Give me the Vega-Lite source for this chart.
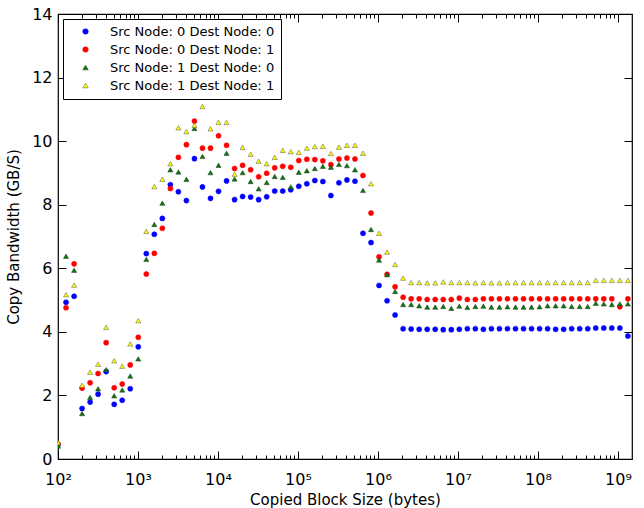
{
  "$schema": "https://vega.github.io/schema/vega-lite/v6.json",
  "width": 574,
  "height": 445,
  "autosize": {"type": "none"},
  "padding": {"left": 58, "top": 14, "right": 12, "bottom": 49},
  "background": "white",
  "config": {
    "font": "DejaVu Sans",
    "view": {"stroke": "black", "strokeWidth": 1.2},
    "axis": {"labelFont": "DejaVu Sans", "titleFont": "DejaVu Sans", "labelFontSize": 15, "titleFontSize": 15, "titleFontWeight": "normal", "labelColor": "black", "titleColor": "black", "tickColor": "black", "domain": false, "grid": false}
  },
  "data": {"values": [
    {"series":"Src Node: 0 Dest Node: 0","bytes":100,"gbps":0.45},
    {"series":"Src Node: 0 Dest Node: 0","bytes":126,"gbps":4.93},
    {"series":"Src Node: 0 Dest Node: 0","bytes":159,"gbps":5.12},
    {"series":"Src Node: 0 Dest Node: 0","bytes":200,"gbps":1.59},
    {"series":"Src Node: 0 Dest Node: 0","bytes":252,"gbps":1.79},
    {"series":"Src Node: 0 Dest Node: 0","bytes":317,"gbps":2.04},
    {"series":"Src Node: 0 Dest Node: 0","bytes":400,"gbps":2.75},
    {"series":"Src Node: 0 Dest Node: 0","bytes":504,"gbps":1.72},
    {"series":"Src Node: 0 Dest Node: 0","bytes":635,"gbps":1.85},
    {"series":"Src Node: 0 Dest Node: 0","bytes":800,"gbps":2.21},
    {"series":"Src Node: 0 Dest Node: 0","bytes":1008,"gbps":3.53},
    {"series":"Src Node: 0 Dest Node: 0","bytes":1270,"gbps":6.46},
    {"series":"Src Node: 0 Dest Node: 0","bytes":1600,"gbps":7.07},
    {"series":"Src Node: 0 Dest Node: 0","bytes":2016,"gbps":7.57},
    {"series":"Src Node: 0 Dest Node: 0","bytes":2540,"gbps":8.63},
    {"series":"Src Node: 0 Dest Node: 0","bytes":3200,"gbps":8.41},
    {"series":"Src Node: 0 Dest Node: 0","bytes":4032,"gbps":8.13},
    {"series":"Src Node: 0 Dest Node: 0","bytes":5080,"gbps":9.45},
    {"series":"Src Node: 0 Dest Node: 0","bytes":6400,"gbps":8.56},
    {"series":"Src Node: 0 Dest Node: 0","bytes":8063,"gbps":8.20},
    {"series":"Src Node: 0 Dest Node: 0","bytes":10159,"gbps":8.42},
    {"series":"Src Node: 0 Dest Node: 0","bytes":12800,"gbps":8.75},
    {"series":"Src Node: 0 Dest Node: 0","bytes":16127,"gbps":8.16},
    {"series":"Src Node: 0 Dest Node: 0","bytes":20319,"gbps":8.26},
    {"series":"Src Node: 0 Dest Node: 0","bytes":25600,"gbps":8.24},
    {"series":"Src Node: 0 Dest Node: 0","bytes":32254,"gbps":8.16},
    {"series":"Src Node: 0 Dest Node: 0","bytes":40637,"gbps":8.25},
    {"series":"Src Node: 0 Dest Node: 0","bytes":51200,"gbps":8.43},
    {"series":"Src Node: 0 Dest Node: 0","bytes":64508,"gbps":8.43},
    {"series":"Src Node: 0 Dest Node: 0","bytes":81275,"gbps":8.47},
    {"series":"Src Node: 0 Dest Node: 0","bytes":102400,"gbps":8.58},
    {"series":"Src Node: 0 Dest Node: 0","bytes":129016,"gbps":8.66},
    {"series":"Src Node: 0 Dest Node: 0","bytes":162550,"gbps":8.76},
    {"series":"Src Node: 0 Dest Node: 0","bytes":204800,"gbps":8.73},
    {"series":"Src Node: 0 Dest Node: 0","bytes":258032,"gbps":8.29},
    {"series":"Src Node: 0 Dest Node: 0","bytes":325100,"gbps":8.69},
    {"series":"Src Node: 0 Dest Node: 0","bytes":409600,"gbps":8.78},
    {"series":"Src Node: 0 Dest Node: 0","bytes":516064,"gbps":8.74},
    {"series":"Src Node: 0 Dest Node: 0","bytes":650199,"gbps":7.10},
    {"series":"Src Node: 0 Dest Node: 0","bytes":819200,"gbps":6.81},
    {"series":"Src Node: 0 Dest Node: 0","bytes":1032127,"gbps":5.46},
    {"series":"Src Node: 0 Dest Node: 0","bytes":1300399,"gbps":4.98},
    {"series":"Src Node: 0 Dest Node: 0","bytes":1638400,"gbps":4.53},
    {"series":"Src Node: 0 Dest Node: 0","bytes":2064255,"gbps":4.10},
    {"series":"Src Node: 0 Dest Node: 0","bytes":2600798,"gbps":4.09},
    {"series":"Src Node: 0 Dest Node: 0","bytes":3276800,"gbps":4.08},
    {"series":"Src Node: 0 Dest Node: 0","bytes":4128510,"gbps":4.08},
    {"series":"Src Node: 0 Dest Node: 0","bytes":5201597,"gbps":4.08},
    {"series":"Src Node: 0 Dest Node: 0","bytes":6553600,"gbps":4.07},
    {"series":"Src Node: 0 Dest Node: 0","bytes":8257020,"gbps":4.07},
    {"series":"Src Node: 0 Dest Node: 0","bytes":10403194,"gbps":4.08},
    {"series":"Src Node: 0 Dest Node: 0","bytes":13107200,"gbps":4.10},
    {"series":"Src Node: 0 Dest Node: 0","bytes":16514040,"gbps":4.10},
    {"series":"Src Node: 0 Dest Node: 0","bytes":20806388,"gbps":4.08},
    {"series":"Src Node: 0 Dest Node: 0","bytes":26214400,"gbps":4.10},
    {"series":"Src Node: 0 Dest Node: 0","bytes":33028081,"gbps":4.10},
    {"series":"Src Node: 0 Dest Node: 0","bytes":41612775,"gbps":4.10},
    {"series":"Src Node: 0 Dest Node: 0","bytes":52428800,"gbps":4.10},
    {"series":"Src Node: 0 Dest Node: 0","bytes":66056161,"gbps":4.10},
    {"series":"Src Node: 0 Dest Node: 0","bytes":83225551,"gbps":4.10},
    {"series":"Src Node: 0 Dest Node: 0","bytes":104857600,"gbps":4.10},
    {"series":"Src Node: 0 Dest Node: 0","bytes":132112322,"gbps":4.10},
    {"series":"Src Node: 0 Dest Node: 0","bytes":166451101,"gbps":4.08},
    {"series":"Src Node: 0 Dest Node: 0","bytes":209715200,"gbps":4.08},
    {"series":"Src Node: 0 Dest Node: 0","bytes":264224645,"gbps":4.10},
    {"series":"Src Node: 0 Dest Node: 0","bytes":332902203,"gbps":4.10},
    {"series":"Src Node: 0 Dest Node: 0","bytes":419430400,"gbps":4.10},
    {"series":"Src Node: 0 Dest Node: 0","bytes":528449290,"gbps":4.12},
    {"series":"Src Node: 0 Dest Node: 0","bytes":665804405,"gbps":4.12},
    {"series":"Src Node: 0 Dest Node: 0","bytes":838860800,"gbps":4.12},
    {"series":"Src Node: 0 Dest Node: 0","bytes":1056898580,"gbps":4.12},
    {"series":"Src Node: 0 Dest Node: 0","bytes":1331608811,"gbps":3.87},
    {"series":"Src Node: 0 Dest Node: 1","bytes":100,"gbps":0.47},
    {"series":"Src Node: 0 Dest Node: 1","bytes":126,"gbps":4.76},
    {"series":"Src Node: 0 Dest Node: 1","bytes":159,"gbps":6.14},
    {"series":"Src Node: 0 Dest Node: 1","bytes":200,"gbps":2.23},
    {"series":"Src Node: 0 Dest Node: 1","bytes":252,"gbps":2.40},
    {"series":"Src Node: 0 Dest Node: 1","bytes":317,"gbps":2.69},
    {"series":"Src Node: 0 Dest Node: 1","bytes":400,"gbps":3.66},
    {"series":"Src Node: 0 Dest Node: 1","bytes":504,"gbps":2.24},
    {"series":"Src Node: 0 Dest Node: 1","bytes":635,"gbps":2.36},
    {"series":"Src Node: 0 Dest Node: 1","bytes":800,"gbps":2.96},
    {"series":"Src Node: 0 Dest Node: 1","bytes":1008,"gbps":3.83},
    {"series":"Src Node: 0 Dest Node: 1","bytes":1270,"gbps":5.82},
    {"series":"Src Node: 0 Dest Node: 1","bytes":1600,"gbps":6.47},
    {"series":"Src Node: 0 Dest Node: 1","bytes":2016,"gbps":7.26},
    {"series":"Src Node: 0 Dest Node: 1","bytes":2540,"gbps":8.51},
    {"series":"Src Node: 0 Dest Node: 1","bytes":3200,"gbps":9.49},
    {"series":"Src Node: 0 Dest Node: 1","bytes":4032,"gbps":9.89},
    {"series":"Src Node: 0 Dest Node: 1","bytes":5080,"gbps":10.63},
    {"series":"Src Node: 0 Dest Node: 1","bytes":6400,"gbps":9.78},
    {"series":"Src Node: 0 Dest Node: 1","bytes":8063,"gbps":9.78},
    {"series":"Src Node: 0 Dest Node: 1","bytes":10159,"gbps":10.17},
    {"series":"Src Node: 0 Dest Node: 1","bytes":12800,"gbps":9.87},
    {"series":"Src Node: 0 Dest Node: 1","bytes":16127,"gbps":9.14},
    {"series":"Src Node: 0 Dest Node: 1","bytes":20319,"gbps":9.24},
    {"series":"Src Node: 0 Dest Node: 1","bytes":25600,"gbps":9.10},
    {"series":"Src Node: 0 Dest Node: 1","bytes":32254,"gbps":8.88},
    {"series":"Src Node: 0 Dest Node: 1","bytes":40637,"gbps":8.99},
    {"series":"Src Node: 0 Dest Node: 1","bytes":51200,"gbps":9.16},
    {"series":"Src Node: 0 Dest Node: 1","bytes":64508,"gbps":9.21},
    {"series":"Src Node: 0 Dest Node: 1","bytes":81275,"gbps":9.18},
    {"series":"Src Node: 0 Dest Node: 1","bytes":102400,"gbps":9.39},
    {"series":"Src Node: 0 Dest Node: 1","bytes":129016,"gbps":9.43},
    {"series":"Src Node: 0 Dest Node: 1","bytes":162550,"gbps":9.42},
    {"series":"Src Node: 0 Dest Node: 1","bytes":204800,"gbps":9.38},
    {"series":"Src Node: 0 Dest Node: 1","bytes":258032,"gbps":9.26},
    {"series":"Src Node: 0 Dest Node: 1","bytes":325100,"gbps":9.44},
    {"series":"Src Node: 0 Dest Node: 1","bytes":409600,"gbps":9.47},
    {"series":"Src Node: 0 Dest Node: 1","bytes":516064,"gbps":9.44},
    {"series":"Src Node: 0 Dest Node: 1","bytes":650199,"gbps":8.92},
    {"series":"Src Node: 0 Dest Node: 1","bytes":819200,"gbps":7.74},
    {"series":"Src Node: 0 Dest Node: 1","bytes":1032127,"gbps":6.36},
    {"series":"Src Node: 0 Dest Node: 1","bytes":1300399,"gbps":5.81},
    {"series":"Src Node: 0 Dest Node: 1","bytes":1638400,"gbps":5.42},
    {"series":"Src Node: 0 Dest Node: 1","bytes":2064255,"gbps":5.09},
    {"series":"Src Node: 0 Dest Node: 1","bytes":2600798,"gbps":5.04},
    {"series":"Src Node: 0 Dest Node: 1","bytes":3276800,"gbps":5.04},
    {"series":"Src Node: 0 Dest Node: 1","bytes":4128510,"gbps":5.02},
    {"series":"Src Node: 0 Dest Node: 1","bytes":5201597,"gbps":5.02},
    {"series":"Src Node: 0 Dest Node: 1","bytes":6553600,"gbps":5.02},
    {"series":"Src Node: 0 Dest Node: 1","bytes":8257020,"gbps":5.02},
    {"series":"Src Node: 0 Dest Node: 1","bytes":10403194,"gbps":5.06},
    {"series":"Src Node: 0 Dest Node: 1","bytes":13107200,"gbps":5.02},
    {"series":"Src Node: 0 Dest Node: 1","bytes":16514040,"gbps":5.02},
    {"series":"Src Node: 0 Dest Node: 1","bytes":20806388,"gbps":5.04},
    {"series":"Src Node: 0 Dest Node: 1","bytes":26214400,"gbps":5.04},
    {"series":"Src Node: 0 Dest Node: 1","bytes":33028081,"gbps":5.04},
    {"series":"Src Node: 0 Dest Node: 1","bytes":41612775,"gbps":5.04},
    {"series":"Src Node: 0 Dest Node: 1","bytes":52428800,"gbps":5.04},
    {"series":"Src Node: 0 Dest Node: 1","bytes":66056161,"gbps":5.04},
    {"series":"Src Node: 0 Dest Node: 1","bytes":83225551,"gbps":5.04},
    {"series":"Src Node: 0 Dest Node: 1","bytes":104857600,"gbps":5.04},
    {"series":"Src Node: 0 Dest Node: 1","bytes":132112322,"gbps":5.04},
    {"series":"Src Node: 0 Dest Node: 1","bytes":166451101,"gbps":5.04},
    {"series":"Src Node: 0 Dest Node: 1","bytes":209715200,"gbps":5.04},
    {"series":"Src Node: 0 Dest Node: 1","bytes":264224645,"gbps":5.04},
    {"series":"Src Node: 0 Dest Node: 1","bytes":332902203,"gbps":5.04},
    {"series":"Src Node: 0 Dest Node: 1","bytes":419430400,"gbps":5.04},
    {"series":"Src Node: 0 Dest Node: 1","bytes":528449290,"gbps":5.04},
    {"series":"Src Node: 0 Dest Node: 1","bytes":665804405,"gbps":5.04},
    {"series":"Src Node: 0 Dest Node: 1","bytes":838860800,"gbps":5.04},
    {"series":"Src Node: 0 Dest Node: 1","bytes":1056898580,"gbps":4.79},
    {"series":"Src Node: 0 Dest Node: 1","bytes":1331608811,"gbps":5.04},
    {"series":"Src Node: 1 Dest Node: 0","bytes":100,"gbps":0.41},
    {"series":"Src Node: 1 Dest Node: 0","bytes":126,"gbps":6.38},
    {"series":"Src Node: 1 Dest Node: 0","bytes":159,"gbps":5.94},
    {"series":"Src Node: 1 Dest Node: 0","bytes":200,"gbps":1.43},
    {"series":"Src Node: 1 Dest Node: 0","bytes":252,"gbps":1.94},
    {"series":"Src Node: 1 Dest Node: 0","bytes":317,"gbps":2.21},
    {"series":"Src Node: 1 Dest Node: 0","bytes":400,"gbps":2.81},
    {"series":"Src Node: 1 Dest Node: 0","bytes":504,"gbps":1.99},
    {"series":"Src Node: 1 Dest Node: 0","bytes":635,"gbps":2.17},
    {"series":"Src Node: 1 Dest Node: 0","bytes":800,"gbps":2.61},
    {"series":"Src Node: 1 Dest Node: 0","bytes":1008,"gbps":3.15},
    {"series":"Src Node: 1 Dest Node: 0","bytes":1270,"gbps":6.28},
    {"series":"Src Node: 1 Dest Node: 0","bytes":1600,"gbps":7.38},
    {"series":"Src Node: 1 Dest Node: 0","bytes":2016,"gbps":8.05},
    {"series":"Src Node: 1 Dest Node: 0","bytes":2540,"gbps":9.10},
    {"series":"Src Node: 1 Dest Node: 0","bytes":3200,"gbps":9.03},
    {"series":"Src Node: 1 Dest Node: 0","bytes":4032,"gbps":8.80},
    {"series":"Src Node: 1 Dest Node: 0","bytes":5080,"gbps":10.40},
    {"series":"Src Node: 1 Dest Node: 0","bytes":6400,"gbps":9.52},
    {"series":"Src Node: 1 Dest Node: 0","bytes":8063,"gbps":9.01},
    {"series":"Src Node: 1 Dest Node: 0","bytes":10159,"gbps":9.24},
    {"series":"Src Node: 1 Dest Node: 0","bytes":12800,"gbps":9.62},
    {"series":"Src Node: 1 Dest Node: 0","bytes":16127,"gbps":8.81},
    {"series":"Src Node: 1 Dest Node: 0","bytes":20319,"gbps":9.01},
    {"series":"Src Node: 1 Dest Node: 0","bytes":25600,"gbps":8.73},
    {"series":"Src Node: 1 Dest Node: 0","bytes":32254,"gbps":8.50},
    {"series":"Src Node: 1 Dest Node: 0","bytes":40637,"gbps":8.70},
    {"series":"Src Node: 1 Dest Node: 0","bytes":51200,"gbps":8.89},
    {"series":"Src Node: 1 Dest Node: 0","bytes":64508,"gbps":8.86},
    {"series":"Src Node: 1 Dest Node: 0","bytes":81275,"gbps":8.56},
    {"series":"Src Node: 1 Dest Node: 0","bytes":102400,"gbps":9.02},
    {"series":"Src Node: 1 Dest Node: 0","bytes":129016,"gbps":9.07},
    {"series":"Src Node: 1 Dest Node: 0","bytes":162550,"gbps":9.14},
    {"series":"Src Node: 1 Dest Node: 0","bytes":204800,"gbps":9.21},
    {"series":"Src Node: 1 Dest Node: 0","bytes":258032,"gbps":9.18},
    {"series":"Src Node: 1 Dest Node: 0","bytes":325100,"gbps":9.27},
    {"series":"Src Node: 1 Dest Node: 0","bytes":409600,"gbps":9.23},
    {"series":"Src Node: 1 Dest Node: 0","bytes":516064,"gbps":9.10},
    {"series":"Src Node: 1 Dest Node: 0","bytes":650199,"gbps":8.45},
    {"series":"Src Node: 1 Dest Node: 0","bytes":819200,"gbps":7.22},
    {"series":"Src Node: 1 Dest Node: 0","bytes":1032127,"gbps":6.26},
    {"series":"Src Node: 1 Dest Node: 0","bytes":1300399,"gbps":5.80},
    {"series":"Src Node: 1 Dest Node: 0","bytes":1638400,"gbps":5.27},
    {"series":"Src Node: 1 Dest Node: 0","bytes":2064255,"gbps":4.86},
    {"series":"Src Node: 1 Dest Node: 0","bytes":2600798,"gbps":4.86},
    {"series":"Src Node: 1 Dest Node: 0","bytes":3276800,"gbps":4.82},
    {"series":"Src Node: 1 Dest Node: 0","bytes":4128510,"gbps":4.78},
    {"series":"Src Node: 1 Dest Node: 0","bytes":5201597,"gbps":4.78},
    {"series":"Src Node: 1 Dest Node: 0","bytes":6553600,"gbps":4.80},
    {"series":"Src Node: 1 Dest Node: 0","bytes":8257020,"gbps":4.74},
    {"series":"Src Node: 1 Dest Node: 0","bytes":10403194,"gbps":4.81},
    {"series":"Src Node: 1 Dest Node: 0","bytes":13107200,"gbps":4.77},
    {"series":"Src Node: 1 Dest Node: 0","bytes":16514040,"gbps":4.80},
    {"series":"Src Node: 1 Dest Node: 0","bytes":20806388,"gbps":4.81},
    {"series":"Src Node: 1 Dest Node: 0","bytes":26214400,"gbps":4.78},
    {"series":"Src Node: 1 Dest Node: 0","bytes":33028081,"gbps":4.78},
    {"series":"Src Node: 1 Dest Node: 0","bytes":41612775,"gbps":4.79},
    {"series":"Src Node: 1 Dest Node: 0","bytes":52428800,"gbps":4.78},
    {"series":"Src Node: 1 Dest Node: 0","bytes":66056161,"gbps":4.78},
    {"series":"Src Node: 1 Dest Node: 0","bytes":83225551,"gbps":4.78},
    {"series":"Src Node: 1 Dest Node: 0","bytes":104857600,"gbps":4.79},
    {"series":"Src Node: 1 Dest Node: 0","bytes":132112322,"gbps":4.82},
    {"series":"Src Node: 1 Dest Node: 0","bytes":166451101,"gbps":4.82},
    {"series":"Src Node: 1 Dest Node: 0","bytes":209715200,"gbps":4.82},
    {"series":"Src Node: 1 Dest Node: 0","bytes":264224645,"gbps":4.80},
    {"series":"Src Node: 1 Dest Node: 0","bytes":332902203,"gbps":4.80},
    {"series":"Src Node: 1 Dest Node: 0","bytes":419430400,"gbps":4.80},
    {"series":"Src Node: 1 Dest Node: 0","bytes":528449290,"gbps":4.90},
    {"series":"Src Node: 1 Dest Node: 0","bytes":665804405,"gbps":4.88},
    {"series":"Src Node: 1 Dest Node: 0","bytes":838860800,"gbps":4.86},
    {"series":"Src Node: 1 Dest Node: 0","bytes":1056898580,"gbps":4.88},
    {"series":"Src Node: 1 Dest Node: 0","bytes":1331608811,"gbps":4.88},
    {"series":"Src Node: 1 Dest Node: 1","bytes":100,"gbps":0.52},
    {"series":"Src Node: 1 Dest Node: 1","bytes":126,"gbps":5.17},
    {"series":"Src Node: 1 Dest Node: 1","bytes":159,"gbps":5.47},
    {"series":"Src Node: 1 Dest Node: 1","bytes":200,"gbps":2.32},
    {"series":"Src Node: 1 Dest Node: 1","bytes":252,"gbps":2.73},
    {"series":"Src Node: 1 Dest Node: 1","bytes":317,"gbps":2.98},
    {"series":"Src Node: 1 Dest Node: 1","bytes":400,"gbps":4.14},
    {"series":"Src Node: 1 Dest Node: 1","bytes":504,"gbps":3.09},
    {"series":"Src Node: 1 Dest Node: 1","bytes":635,"gbps":2.92},
    {"series":"Src Node: 1 Dest Node: 1","bytes":800,"gbps":3.62},
    {"series":"Src Node: 1 Dest Node: 1","bytes":1008,"gbps":4.35},
    {"series":"Src Node: 1 Dest Node: 1","bytes":1270,"gbps":7.16},
    {"series":"Src Node: 1 Dest Node: 1","bytes":1600,"gbps":8.57},
    {"series":"Src Node: 1 Dest Node: 1","bytes":2016,"gbps":8.80},
    {"series":"Src Node: 1 Dest Node: 1","bytes":2540,"gbps":9.29},
    {"series":"Src Node: 1 Dest Node: 1","bytes":3200,"gbps":10.42},
    {"series":"Src Node: 1 Dest Node: 1","bytes":4032,"gbps":10.30},
    {"series":"Src Node: 1 Dest Node: 1","bytes":5080,"gbps":10.50},
    {"series":"Src Node: 1 Dest Node: 1","bytes":6400,"gbps":11.09},
    {"series":"Src Node: 1 Dest Node: 1","bytes":8063,"gbps":10.39},
    {"series":"Src Node: 1 Dest Node: 1","bytes":10159,"gbps":10.59},
    {"series":"Src Node: 1 Dest Node: 1","bytes":12800,"gbps":10.59},
    {"series":"Src Node: 1 Dest Node: 1","bytes":16127,"gbps":8.96},
    {"series":"Src Node: 1 Dest Node: 1","bytes":20319,"gbps":9.80},
    {"series":"Src Node: 1 Dest Node: 1","bytes":25600,"gbps":9.59},
    {"series":"Src Node: 1 Dest Node: 1","bytes":32254,"gbps":9.37},
    {"series":"Src Node: 1 Dest Node: 1","bytes":40637,"gbps":9.29},
    {"series":"Src Node: 1 Dest Node: 1","bytes":51200,"gbps":9.49},
    {"series":"Src Node: 1 Dest Node: 1","bytes":64508,"gbps":9.71},
    {"series":"Src Node: 1 Dest Node: 1","bytes":81275,"gbps":9.67},
    {"series":"Src Node: 1 Dest Node: 1","bytes":102400,"gbps":9.65},
    {"series":"Src Node: 1 Dest Node: 1","bytes":129016,"gbps":9.78},
    {"series":"Src Node: 1 Dest Node: 1","bytes":162550,"gbps":9.83},
    {"series":"Src Node: 1 Dest Node: 1","bytes":204800,"gbps":9.84},
    {"series":"Src Node: 1 Dest Node: 1","bytes":258032,"gbps":9.61},
    {"series":"Src Node: 1 Dest Node: 1","bytes":325100,"gbps":9.81},
    {"series":"Src Node: 1 Dest Node: 1","bytes":409600,"gbps":9.87},
    {"series":"Src Node: 1 Dest Node: 1","bytes":516064,"gbps":9.87},
    {"series":"Src Node: 1 Dest Node: 1","bytes":650199,"gbps":9.62},
    {"series":"Src Node: 1 Dest Node: 1","bytes":819200,"gbps":8.66},
    {"series":"Src Node: 1 Dest Node: 1","bytes":1032127,"gbps":7.10},
    {"series":"Src Node: 1 Dest Node: 1","bytes":1300399,"gbps":6.51},
    {"series":"Src Node: 1 Dest Node: 1","bytes":1638400,"gbps":6.12},
    {"series":"Src Node: 1 Dest Node: 1","bytes":2064255,"gbps":5.69},
    {"series":"Src Node: 1 Dest Node: 1","bytes":2600798,"gbps":5.55},
    {"series":"Src Node: 1 Dest Node: 1","bytes":3276800,"gbps":5.55},
    {"series":"Src Node: 1 Dest Node: 1","bytes":4128510,"gbps":5.54},
    {"series":"Src Node: 1 Dest Node: 1","bytes":5201597,"gbps":5.54},
    {"series":"Src Node: 1 Dest Node: 1","bytes":6553600,"gbps":5.57},
    {"series":"Src Node: 1 Dest Node: 1","bytes":8257020,"gbps":5.55},
    {"series":"Src Node: 1 Dest Node: 1","bytes":10403194,"gbps":5.55},
    {"series":"Src Node: 1 Dest Node: 1","bytes":13107200,"gbps":5.55},
    {"series":"Src Node: 1 Dest Node: 1","bytes":16514040,"gbps":5.54},
    {"series":"Src Node: 1 Dest Node: 1","bytes":20806388,"gbps":5.55},
    {"series":"Src Node: 1 Dest Node: 1","bytes":26214400,"gbps":5.54},
    {"series":"Src Node: 1 Dest Node: 1","bytes":33028081,"gbps":5.54},
    {"series":"Src Node: 1 Dest Node: 1","bytes":41612775,"gbps":5.55},
    {"series":"Src Node: 1 Dest Node: 1","bytes":52428800,"gbps":5.55},
    {"series":"Src Node: 1 Dest Node: 1","bytes":66056161,"gbps":5.55},
    {"series":"Src Node: 1 Dest Node: 1","bytes":83225551,"gbps":5.55},
    {"series":"Src Node: 1 Dest Node: 1","bytes":104857600,"gbps":5.55},
    {"series":"Src Node: 1 Dest Node: 1","bytes":132112322,"gbps":5.55},
    {"series":"Src Node: 1 Dest Node: 1","bytes":166451101,"gbps":5.55},
    {"series":"Src Node: 1 Dest Node: 1","bytes":209715200,"gbps":5.55},
    {"series":"Src Node: 1 Dest Node: 1","bytes":264224645,"gbps":5.55},
    {"series":"Src Node: 1 Dest Node: 1","bytes":332902203,"gbps":5.55},
    {"series":"Src Node: 1 Dest Node: 1","bytes":419430400,"gbps":5.55},
    {"series":"Src Node: 1 Dest Node: 1","bytes":528449290,"gbps":5.62},
    {"series":"Src Node: 1 Dest Node: 1","bytes":665804405,"gbps":5.62},
    {"series":"Src Node: 1 Dest Node: 1","bytes":838860800,"gbps":5.62},
    {"series":"Src Node: 1 Dest Node: 1","bytes":1056898580,"gbps":5.62},
    {"series":"Src Node: 1 Dest Node: 1","bytes":1331608811,"gbps":5.62}
  ]},
  "layer": [
    {
      "mark": {"type": "point", "filled": true, "size": 26, "opacity": 1, "strokeWidth": 0.5, "clip": true},
      "encoding": {
        "x": {"field": "bytes", "type": "quantitative",
          "scale": {"type": "log", "domain": [100, 1500000000], "nice": false},
          "axis": {"orient": "bottom", "title": "Copied Block Size (bytes)", "titlePadding": 1,
            "values": [100,200,300,400,500,600,700,800,900,1000,2000,3000,4000,5000,6000,7000,8000,9000,10000,20000,30000,40000,50000,60000,70000,80000,90000,100000,200000,300000,400000,500000,600000,700000,800000,900000,1000000,2000000,3000000,4000000,5000000,6000000,7000000,8000000,9000000,10000000,20000000,30000000,40000000,50000000,60000000,70000000,80000000,90000000,100000000,200000000,300000000,400000000,500000000,600000000,700000000,800000000,900000000,1000000000],
            "labelExpr": "datum.value == 100 ? '10²' : datum.value == 1000 ? '10³' : datum.value == 10000 ? '10⁴' : datum.value == 100000 ? '10⁵' : datum.value == 1000000 ? '10⁶' : datum.value == 10000000 ? '10⁷' : datum.value == 100000000 ? '10⁸' : datum.value == 1000000000 ? '10⁹' : ''",
            "labelFlush": false, "labelOverlap": false, "labelFontSize": 16,
            "tickSize": {"condition": {"test": "indexof([100,1000,10000,100000,1000000,10000000,100000000,1000000000], datum.value) >= 0", "value": -8}, "value": -4},
            "labelPadding": 20}},
        "y": {"field": "gbps", "type": "quantitative",
          "scale": {"domain": [0, 14], "nice": false},
          "axis": {"title": "Copy Bandwidth (GB/S)", "values": [0,2,4,6,8,10,12,14], "tickSize": -8, "labelPadding": 14, "titlePadding": 10, "labelFlush": false, "labelFontSize": 16}},
        "color": {"field": "series", "type": "nominal",
          "scale": {"domain": ["Src Node: 0 Dest Node: 0","Src Node: 0 Dest Node: 1","Src Node: 1 Dest Node: 0","Src Node: 1 Dest Node: 1"], "range": ["#0000ff","#ff0000","#007f00","#ffff00"]},
          "legend": {"title": null, "orient": "top-left", "offset": 5, "padding": 6, "strokeColor": "black", "fillColor": "white", "labelFont": "DejaVu Sans", "labelFontSize": 13, "labelColor": "black", "labelLimit": 0, "symbolSize": 30, "rowPadding": 4, "labelOffset": 18, "symbolOffset": 10, "symbolStrokeWidth": 0.5}},
        "shape": {"field": "series", "type": "nominal",
          "scale": {"domain": ["Src Node: 0 Dest Node: 0","Src Node: 0 Dest Node: 1","Src Node: 1 Dest Node: 0","Src Node: 1 Dest Node: 1"], "range": ["circle","circle","triangle-up","triangle-up"]}},
        "stroke": {"field": "series", "type": "nominal",
          "scale": {"domain": ["Src Node: 0 Dest Node: 0","Src Node: 0 Dest Node: 1","Src Node: 1 Dest Node: 0","Src Node: 1 Dest Node: 1"], "range": ["#0000ff","#ff0000","#333333","#555555"]}}
      }
    },
    {
      "mark": {"type": "point", "opacity": 0},
      "encoding": {
        "x": {"field": "bytes", "type": "quantitative",
          "scale": {"type": "log", "domain": [100, 1500000000], "nice": false},
          "axis": {"orient": "top", "title": null, "labels": false,
            "values": [100,200,300,400,500,600,700,800,900,1000,2000,3000,4000,5000,6000,7000,8000,9000,10000,20000,30000,40000,50000,60000,70000,80000,90000,100000,200000,300000,400000,500000,600000,700000,800000,900000,1000000,2000000,3000000,4000000,5000000,6000000,7000000,8000000,9000000,10000000,20000000,30000000,40000000,50000000,60000000,70000000,80000000,90000000,100000000,200000000,300000000,400000000,500000000,600000000,700000000,800000000,900000000,1000000000],
            "tickSize": {"condition": {"test": "indexof([100,1000,10000,100000,1000000,10000000,100000000,1000000000], datum.value) >= 0", "value": -8}, "value": -4}}},
        "y": {"field": "gbps", "type": "quantitative",
          "scale": {"domain": [0, 14], "nice": false},
          "axis": {"orient": "right", "title": null, "labels": false, "values": [0,2,4,6,8,10,12,14], "tickSize": -8}}
      }
    }
  ],
  "resolve": {"axis": {"x": "independent", "y": "independent"}}
}
